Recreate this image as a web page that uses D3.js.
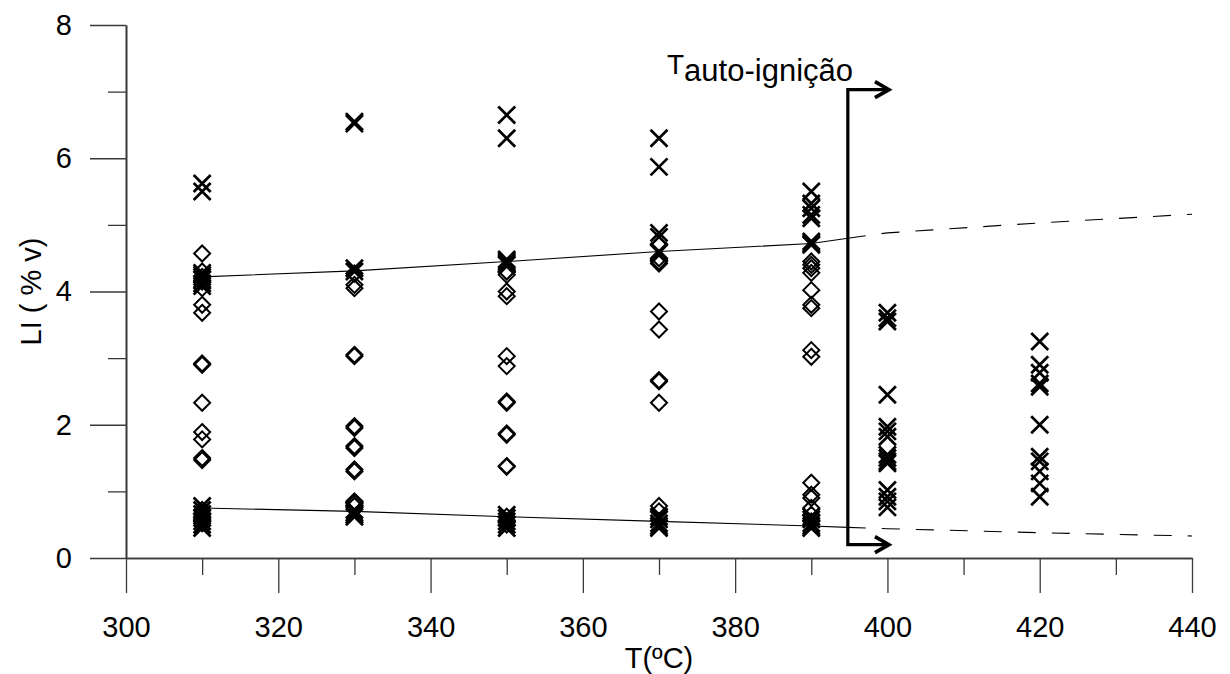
<!DOCTYPE html>
<html>
<head>
<meta charset="utf-8">
<script src="https://cdn.jsdelivr.net/npm/d3@7"></script>
<style>
  html, body { margin: 0; padding: 0; background: #fff; }
  svg text { font-family: "Liberation Sans", Arial, Helvetica, sans-serif; fill: #000; }
</style>
</head>
<body>
<svg id="chart" width="1230" height="674"></svg>
<script>
// Temperatures (ºC) where LI was measured
const temps = [310, 330, 350, 370, 390, 400, 420];

// LI (% v) readings plotted as crosses, one list per temperature
const crossLI = [
  [5.62, 5.5, 4.28, 4.25, 4.22, 4.18, 4.12, 4.08, 0.78, 0.72, 0.66, 0.6, 0.55, 0.5, 0.45],
  [6.55, 6.52, 4.35, 4.3, 0.72, 0.68, 0.65, 0.62],
  [6.65, 6.3, 4.48, 4.45, 4.42, 4.4, 0.65, 0.6, 0.55, 0.5, 0.45],
  [6.3, 5.87, 4.88, 4.82, 4.6, 4.58, 0.62, 0.58, 0.52, 0.48, 0.45],
  [5.5, 5.32, 5.25, 5.15, 5.1, 4.75, 4.72, 4.7, 0.62, 0.58, 0.52, 0.48, 0.45],
  [3.68, 3.6, 3.55, 2.45, 1.97, 1.9, 1.82, 1.55, 1.5, 1.45, 1.42, 1.02, 0.92, 0.85, 0.76],
  [3.25, 2.9, 2.78, 2.62, 2.57, 2.0, 1.52, 1.45, 1.3, 1.12, 0.92]
];

// LI (% v) readings plotted as open diamonds, one list per temperature
const diamondLI = [
  [4.57, 4.3, 4.22, 4.15, 4.05, 3.8, 3.68, 2.92, 2.9, 2.33, 1.89, 1.78, 1.5, 1.47, 0.72, 0.65, 0.58, 0.52],
  [4.27, 4.1, 4.05, 3.05, 3.03, 1.98, 1.95, 1.68, 1.65, 1.33, 1.3, 0.85, 0.82, 0.78],
  [4.3, 4.25, 4.0, 3.93, 3.03, 2.88, 2.35, 2.33, 1.87, 1.85, 1.38, 1.37, 0.62, 0.55, 0.5],
  [4.7, 4.5, 4.45, 4.42, 3.7, 3.43, 2.67, 2.65, 2.33, 0.78, 0.7],
  [4.45, 4.4, 4.35, 4.28, 4.02, 3.8, 3.75, 3.12, 3.02, 1.13, 0.95, 0.9, 0.75, 0.65, 0.55],
  [],
  []
];

// Upper and lower trend lines (solid up to the auto-ignition temperature, dashed beyond)
const upperSolidT = [310, 330, 350, 370, 390, 394.8];
const upperSolidLI = [4.22, 4.31, 4.45, 4.6, 4.72, 4.8];
const upperDashT = [394.8, 400, 420, 440];
const upperDashLI = [4.8, 4.88, 5.03, 5.16];
const lowerSolidT = [310, 330, 350, 370, 390, 394.8];
const lowerSolidLI = [0.75, 0.7, 0.62, 0.55, 0.48, 0.46];
const lowerDashT = [394.8, 400, 420, 440];
const lowerDashLI = [0.46, 0.44, 0.38, 0.33];

// Auto-ignition marker: temperature, vertical extent and arrow tip
const autoIgnT = 394.8;
const autoIgnLI = [0.2, 7.03];
const arrowTipT = 400.2;

// Axis ticks
const xMajorTicks = [300, 320, 340, 360, 380, 400, 420, 440];
const xMinorTicks = [310, 330, 350, 370, 390, 410, 430];
const yMajorTicks = [0, 2, 4, 6, 8];
const yMinorTicks = [1, 3, 5, 7];

const svg = d3.select("#chart");
const x = d3.scaleLinear().domain([300, 440]).range([126, 1192]);
const y = d3.scaleLinear().domain([0, 8]).range([558, 25]);

const fontSize = 29;
const axisColor = "#3a3a3a";

// ----- axes -----
function styleAxis(g) {
  g.select(".domain").attr("stroke", axisColor).attr("stroke-width", 1.6);
  g.selectAll(".tick line").attr("stroke", axisColor).attr("stroke-width", 1.3);
  g.selectAll(".tick text").style("font-size", fontSize + "px").attr("fill", "#000");
}

svg.append("g")
  .attr("transform", `translate(0,${y(0)})`)
  .call(d3.axisBottom(x).tickValues(xMinorTicks).tickSize(17).tickSizeOuter(0).tickFormat(""))
  .call(styleAxis);
svg.append("g")
  .attr("transform", `translate(0,${y(0)})`)
  .call(d3.axisBottom(x).tickValues(xMajorTicks).tickSize(35).tickSizeOuter(0).tickPadding(23).tickFormat(d3.format("d")))
  .call(styleAxis);

svg.append("g")
  .attr("transform", `translate(${x(300)},0)`)
  .call(d3.axisLeft(y).tickValues(yMinorTicks).tickSize(18).tickSizeOuter(0).tickFormat(""))
  .call(styleAxis);
svg.append("g")
  .attr("transform", `translate(${x(300)},0)`)
  .call(d3.axisLeft(y).tickValues(yMajorTicks).tickSize(36).tickSizeOuter(0).tickPadding(18).tickFormat(d3.format("d")))
  .call(styleAxis);

svg.append("text")
  .attr("x", (x(300) + x(440)) / 2)
  .attr("y", 668)
  .attr("text-anchor", "middle")
  .style("font-size", fontSize + "px")
  .text("T(ºC)");

svg.append("text")
  .attr("transform", `translate(41,${(y(0) + y(8)) / 2}) rotate(-90)`)
  .attr("text-anchor", "middle")
  .style("font-size", fontSize + "px")
  .text("LI ( % v)");

// ----- trend lines -----
const line = d3.line().x(d => x(d[0])).y(d => y(d[1]));
function drawTrend(ts, vs, dashed) {
  svg.append("path")
    .datum(d3.zip(ts, vs))
    .attr("d", line)
    .attr("fill", "none")
    .attr("stroke", "#000")
    .attr("stroke-width", 1.1)
    .attr("stroke-dasharray", dashed ? "18,16" : null);
}
drawTrend(upperSolidT, upperSolidLI, false);
drawTrend(upperDashT, upperDashLI, true);
drawTrend(lowerSolidT, lowerSolidLI, false);
drawTrend(lowerDashT, lowerDashLI, true);

// ----- markers -----
const crossPts = [];
const diamondPts = [];
temps.forEach((t, i) => {
  crossLI[i].forEach(v => crossPts.push([t, v]));
  diamondLI[i].forEach(v => diamondPts.push([t, v]));
});

const dHalf = 8;
svg.append("g").selectAll("path")
  .data(diamondPts)
  .join("path")
  .attr("transform", d => `translate(${x(d[0])},${y(d[1])})`)
  .attr("d", `M0,${-dHalf}L${dHalf},0L0,${dHalf}L${-dHalf},0Z`)
  .attr("fill", "none")
  .attr("stroke", "#000")
  .attr("stroke-width", 2);

const cHalf = 8.5;
svg.append("g").selectAll("path")
  .data(crossPts)
  .join("path")
  .attr("transform", d => `translate(${x(d[0])},${y(d[1])})`)
  .attr("d", `M${-cHalf},${-cHalf}L${cHalf},${cHalf}M${-cHalf},${cHalf}L${cHalf},${-cHalf}`)
  .attr("fill", "none")
  .attr("stroke", "#000")
  .attr("stroke-width", 2.7);

// ----- auto-ignition bracket -----
const ax = x(autoIgnT);
const tip = x(arrowTipT);
const yTop = y(autoIgnLI[1]);
const yBot = y(autoIgnLI[0]);
svg.append("path")
  .attr("d", `M${tip - 2},${yTop}L${ax},${yTop}L${ax},${yBot}L${tip - 2},${yBot}`)
  .attr("fill", "none")
  .attr("stroke", "#000")
  .attr("stroke-width", 3.2);
[yTop, yBot].forEach(yy => {
  svg.append("path")
    .attr("d", `M${tip - 14},${yy - 8}L${tip},${yy}L${tip - 14},${yy + 8}`)
    .attr("fill", "none")
    .attr("stroke", "#000")
    .attr("stroke-width", 3.6)
    .attr("stroke-linejoin", "miter");
});

const lab = svg.append("text")
  .attr("x", 667)
  .attr("y", 74)
  .style("font-size", "28px");
lab.append("tspan").text("T");
lab.append("tspan").attr("dy", 7).style("font-size", "31px").text("auto-ignição");
</script>
</body>
</html>
